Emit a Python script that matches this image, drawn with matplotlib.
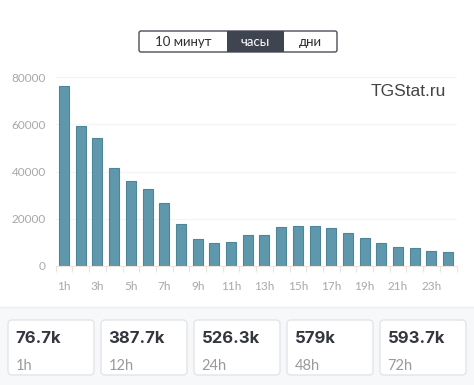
import matplotlib.pyplot as plt
from matplotlib.patches import FancyBboxPatch, Rectangle
import numpy as np

plt.rcParams['font.family'] = ['Lato', 'DejaVu Sans']

# hourly views, 1h .. 24h
hours = [f'{h}h' for h in range(1, 25)]
views = [76300, 59400, 54100, 41600, 35800, 32600, 26500, 17900, 11400, 9900,
         10200, 13000, 13300, 16400, 16900, 16800, 16200, 14000, 11700, 9700,
         7900, 7500, 6300, 6100]
yticks = [0, 20000, 40000, 60000, 80000]

# summary cards
card_values = ['76.7k', '387.7k', '526.3k', '579k', '593.7k']
card_labels = ['1h', '12h', '24h', '48h', '72h']

tabs = ['10 минут', 'часы', 'дни']

W, H = 474, 385
fig = plt.figure(figsize=(W / 100, H / 100), dpi=100)

# overlay in pixel coordinates for the page furniture
over = fig.add_axes([0, 0, 1, 1], zorder=0)
over.set_xlim(0, W)
over.set_ylim(H, 0)
over.axis('off')

# bottom grey panel
over.add_patch(Rectangle((0, 307), W, H - 307, facecolor='#f7f8f9', edgecolor='none'))
over.plot([0, W], [307, 307], color='#ebedef', lw=1)

card_x0 = 8
card_w = 86
card_step = 93
for i, (v, lab) in enumerate(zip(card_values, card_labels)):
    x = card_x0 + i * card_step
    over.add_patch(FancyBboxPatch((x, 320), card_w, 55,
                                  boxstyle='round,pad=0,rounding_size=4',
                                  facecolor='white', edgecolor='#e3e5e8', lw=1))
    over.text(x + 7.5, 343, v, fontsize=12, fontweight='bold', color='#33373d',
              ha='left', va='baseline', family='Inter')
    over.text(x + 7.5, 370, lab, fontsize=10.5, color='#9a9a9a',
              ha='left', va='baseline')

# tab buttons
tab_edges = [139, 227, 284, 337]
over.add_patch(FancyBboxPatch((tab_edges[0], 31), tab_edges[-1] - tab_edges[0], 21,
                              boxstyle='round,pad=0,rounding_size=2',
                              facecolor='white', edgecolor='#4a4f57', lw=1))
over.add_patch(Rectangle((tab_edges[1], 31), tab_edges[2] - tab_edges[1], 21,
                         facecolor='#3e4550', edgecolor='none'))
for i, t in enumerate(tabs):
    cx = (tab_edges[i] + tab_edges[i + 1]) / 2
    over.text(cx, 41.5, t, fontsize=9.5, color='white' if i == 1 else '#2e2e2e',
              ha='center', va='center')

# watermark
over.text(446, 91, 'TGStat.ru', fontsize=12.5, color='#444444',
          ha='right', va='center', family='Liberation Sans')

# bar chart
ax = fig.add_axes([55.7 / W, 1 - 266 / H, (456.5 - 55.7) / W, (266 - 77) / H], zorder=1)
ax.patch.set_alpha(0)
x = np.arange(len(hours))
ax.bar(x, views, width=0.6, color='#5f98ad', edgecolor='#4f8599', lw=0.8, zorder=2)
ax.set_xlim(-0.5, len(hours) - 0.5)
ax.set_ylim(0, 80000)
ax.set_yticks(yticks)
ax.set_yticklabels([str(v) for v in yticks])
ax.set_xticks(x[::2])
ax.set_xticklabels(hours[::2])
ax.set_xticks(np.arange(-0.5, len(hours), 1), minor=True)
ax.tick_params(axis='x', which='major', length=0, pad=11, labelsize=8.5, labelcolor='#a8a8a8')
ax.tick_params(axis='x', which='minor', length=4, color='#ece3dc', width=0.8)
ax.tick_params(axis='y', length=0, pad=7, labelsize=8.5, labelcolor='#a8a8a8')
ax.grid(axis='y', color='#f4f4f4', lw=0.8, zorder=0)
for s in ['top', 'right', 'left']:
    ax.spines[s].set_visible(False)
ax.spines['bottom'].set_color('#ece3dc')
ax.spines['bottom'].set_linewidth(0.8)

fig.savefig('out.png', dpi=100)
